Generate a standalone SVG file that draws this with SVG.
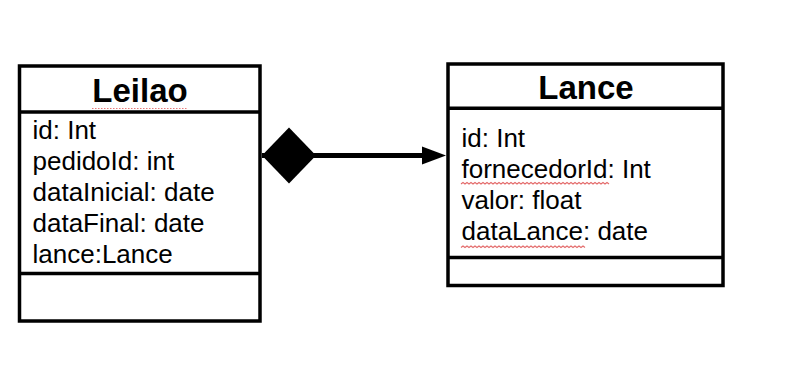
<svg xmlns="http://www.w3.org/2000/svg" width="809" height="367" viewBox="0 0 809 367">
  <style>
    .box { fill: #ffffff; stroke: #000000; stroke-width: 3.5; }
    .sep { stroke: #000000; stroke-width: 3.5; }
    .title { font-family: "Liberation Sans", Arial, sans-serif; font-size: 33px; font-weight: bold; fill: #000000; text-anchor: middle; }
    .attr { font-family: "Liberation Sans", Arial, sans-serif; font-size: 26px; fill: #000000; }
    .wavy { fill: none; stroke: #e05a5a; stroke-width: 1.1; opacity: 0.9; }
    .dots { fill: none; stroke: #e87a7a; stroke-width: 1.2; stroke-dasharray: 1.5 1.5; }
    .link { fill: none; stroke: #000000; stroke-width: 5; }
  </style>
  <defs>
    <marker id="diamond" markerUnits="userSpaceOnUse" markerWidth="54" markerHeight="56" refX="0" refY="28" orient="auto" overflow="visible">
      <path d="M0,28 L27,0 L54,28 L27,56 Z" fill="#000000"/>
    </marker>
    <marker id="arrow" markerUnits="userSpaceOnUse" markerWidth="24" markerHeight="18" refX="2" refY="9" orient="auto" overflow="visible">
      <path d="M0,0 L24,9 L0,18 Z" fill="#000000"/>
    </marker>
  </defs>

  <rect width="809" height="367" fill="#ffffff"/>

  <!-- class Leilao -->
  <g id="leilao">
    <rect class="box" x="19.5" y="66" width="240.5" height="255"/>
    <line class="sep" x1="19.5" y1="112" x2="260" y2="112"/>
    <line class="sep" x1="19.5" y1="273.5" x2="260" y2="273.5"/>
    <text class="title" x="140" y="101.5">Leilao</text>
    <path class="dots" d="M92,108.5 H187"/>
    <text class="attr" x="32.5" y="138.5">id: Int</text>
    <text class="attr" x="32.5" y="169.7">pedidoId: int</text>
    <text class="attr" x="32.5" y="200.9">dataInicial: date</text>
    <text class="attr" x="32.5" y="232.1">dataFinal: date</text>
    <text class="attr" x="32.5" y="263.3">lance:Lance</text>
  </g>

  <!-- class Lance -->
  <g id="lance">
    <rect class="box" x="448" y="64" width="275" height="221.5"/>
    <line class="sep" x1="448" y1="108.3" x2="723" y2="108.3"/>
    <line class="sep" x1="448" y1="257.5" x2="723" y2="257.5"/>
    <text class="title" x="586" y="99.3">Lance</text>
    <text class="attr" x="461.5" y="146.7">id: Int</text>
    <text class="attr" x="461.5" y="177.5">fornecedorId: Int</text>
    <path class="wavy" d="M461,184 l2,-1.5 l2,1.5 l2,-1.5 l2,1.5 l2,-1.5 l2,1.5 l2,-1.5 l2,1.5 l2,-1.5 l2,1.5 l2,-1.5 l2,1.5 l2,-1.5 l2,1.5 l2,-1.5 l2,1.5 l2,-1.5 l2,1.5 l2,-1.5 l2,1.5 l2,-1.5 l2,1.5 l2,-1.5 l2,1.5 l2,-1.5 l2,1.5 l2,-1.5 l2,1.5 l2,-1.5 l2,1.5 l2,-1.5 l2,1.5 l2,-1.5 l2,1.5 l2,-1.5 l2,1.5 l2,-1.5 l2,1.5 l2,-1.5 l2,1.5 l2,-1.5 l2,1.5 l2,-1.5 l2,1.5 l2,-1.5 l2,1.5 l2,-1.5 l2,1.5 l2,-1.5 l2,1.5 l2,-1.5 l2,1.5 l2,-1.5 l2,1.5 l2,-1.5 l2,1.5 l2,-1.5 l2,1.5 l2,-1.5 l2,1.5 l2,-1.5 l2,1.5 l2,-1.5 l2,1.5 l2,-1.5 l2,1.5 l2,-1.5 l2,1.5 l2,-1.5 l2,1.5 l2,-1.5 l2,1.5 l2,-1.5 l2,1.5"/>
    <text class="attr" x="461.5" y="208.5">valor: float</text>
    <text class="attr" x="461.5" y="239.7">dataLance: date</text>
    <path class="wavy" d="M461,247.5 l2,-1.5 l2,1.5 l2,-1.5 l2,1.5 l2,-1.5 l2,1.5 l2,-1.5 l2,1.5 l2,-1.5 l2,1.5 l2,-1.5 l2,1.5 l2,-1.5 l2,1.5 l2,-1.5 l2,1.5 l2,-1.5 l2,1.5 l2,-1.5 l2,1.5 l2,-1.5 l2,1.5 l2,-1.5 l2,1.5 l2,-1.5 l2,1.5 l2,-1.5 l2,1.5 l2,-1.5 l2,1.5 l2,-1.5 l2,1.5 l2,-1.5 l2,1.5 l2,-1.5 l2,1.5 l2,-1.5 l2,1.5 l2,-1.5 l2,1.5 l2,-1.5 l2,1.5 l2,-1.5 l2,1.5 l2,-1.5 l2,1.5 l2,-1.5 l2,1.5 l2,-1.5 l2,1.5 l2,-1.5 l2,1.5 l2,-1.5 l2,1.5 l2,-1.5 l2,1.5 l2,-1.5 l2,1.5 l2,-1.5 l2,1.5 l2,-1.5 l2,1.5"/>
  </g>

  <!-- composition: Leilao owns Lance -->
  <g id="connectors">
    <path class="link" d="M262,155.5 H424" marker-start="url(#diamond)" marker-end="url(#arrow)"/>
  </g>
</svg>
